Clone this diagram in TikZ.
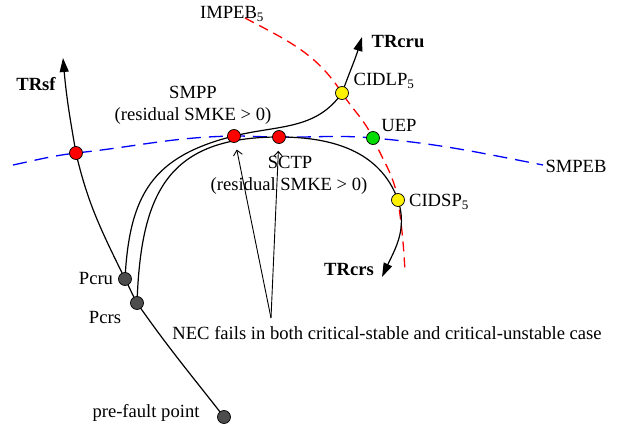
\documentclass[tikz,border=0pt]{standalone}
\usepackage{fontspec}
\setmainfont{Liberation Serif}
\usetikzlibrary{arrows.meta,backgrounds}
\definecolor{darkdot}{RGB}{77,77,77}
\definecolor{uepgreen}{RGB}{0,220,0}
\tikzset{
  state point/.style={
    circle,
    draw=black,
    line width=0.7pt,
    inner sep=0pt,
    minimum size=13pt
  },
  traj/.style={
    line width=1.2pt,
    -{Triangle[length=14pt,width=9pt]}
  },
  boundary/.style={
    line width=1.3pt,
    dash pattern=on 10pt off 6pt
  },
  pointer/.style={
    line width=0.9pt,
    shorten >=7pt,
    -{Straight Barb[length=5pt,width=9pt]}
  },
  lbl/.style={
    anchor=base,
    inner sep=0pt,
    font=\fontsize{18.6}{24}\selectfont
  },
}

\begin{document}
\begin{tikzpicture}[x=1pt,y=-1pt]
\useasboundingbox (0,0) rectangle (619,425);
% points
\node (prefault) at (224,417) [state point,fill=darkdot] {};
\node (pcrs) at (137,303) [state point,fill=darkdot] {};
\node (pcru) at (125,279) [state point,fill=darkdot] {};
\node (sfcross) at (76,153) [state point,fill=red] {};
\node (smpp) at (234,136) [state point,fill=red] {};
\node (sctp) at (279,137) [state point,fill=red] {};
\node (uep) at (373,138) [state point,fill=uepgreen] {};
\node (cidlp) at (342,93) [state point,fill=yellow] {};
\node (cidsp) at (398,200) [state point,fill=yellow] {};
\coordinate (sftip) at (63,58);
\coordinate (crutip) at (362,37);
\coordinate (crstip) at (382,277);
\coordinate (impebstart) at (245,18);
\coordinate (impebend) at (405,272);
\coordinate (smpebstart) at (13,165);
\coordinate (smpebend) at (543,165);
\coordinate (necapex) at (271,318);
% labels
\node (trsflbl) at (36,91) [lbl] {\bfseries TRsf};
\node (trcrulbl) at (398,48) [lbl] {\bfseries TRcru};
\node (trcrslbl) at (349,275) [lbl] {\bfseries TRcrs};
\node (impeblbl) at (232,19) [lbl] {IMPEB\textsubscript{5}};
\node (cidlplbl) at (384,86) [lbl] {CIDLP\textsubscript{5}};
\node (cidsplbl) at (439,207) [lbl] {CIDSP\textsubscript{5}};
\node (ueplbl) at (399,132) [lbl] {UEP};
\node (smpeblbl) at (576,173) [lbl] {SMPEB};
\node (smpplbl) at (193,99) [lbl] {SMPP};
\node (smppnote) at (193,121) [lbl] {(residual SMKE > 0)};
\node (sctplbl) at (290,169) [lbl] {SCTP};
\node (sctpnote) at (289,191) [lbl] {(residual SMKE > 0)};
\node (pcrulbl) at (96,284) [lbl] {Pcru};
\node (pcrslbl) at (105,323) [lbl] {Pcrs};
\node (prefaultlbl) at (146,417) [lbl] {pre-fault point};
\node (neclbl) at (387,339) [lbl] {NEC fails in both critical-stable and critical-unstable case};
% arrows to the exit points
\draw[pointer] (necapex) -- (smpp);
\draw[pointer] (necapex) -- (sctp);
\begin{scope}[on background layer]
\draw[boundary,red] (impebstart)
  to [out=-28, in=123] (cidlp.center)
  to [out=-57, in=116] (uep.center)
  to [out=-66, in=100] (cidsp.center)
  to [out=-82, in=93] (impebend);
\draw[boundary,blue,dash pattern=on 14pt off 8pt] (smpebstart)
  to [out=12, in=187] (sfcross.center)
  to [out=6, in=181] (smpp.center)
  to [out=0, in=180] (sctp.center)
  to [out=-1, in=175] (uep.center)
  to [out=-5, in=169] (smpebend);
\draw[traj] (prefault.center)
  to [out=128, in=-55] (pcrs.center)
  to [out=119, in=-62] (pcru.center)
  to [out=116, in=-77] (sfcross.center)
  to [out=100, in=-85] (sftip);
\draw[traj] (pcru.center)
  to [out=87, in=194, looseness=1.2] (smpp.center)
  to [out=14, in=-125] (cidlp.center)
  to [out=70, in=-107] (crutip);
\draw[traj] (pcrs.center)
  to [out=88, in=180, looseness=1.3] (sctp.center)
  to [out=0, in=110] (cidsp.center)
  to [out=-72, in=65] (crstip);
\end{scope}
\end{tikzpicture}
\end{document}
